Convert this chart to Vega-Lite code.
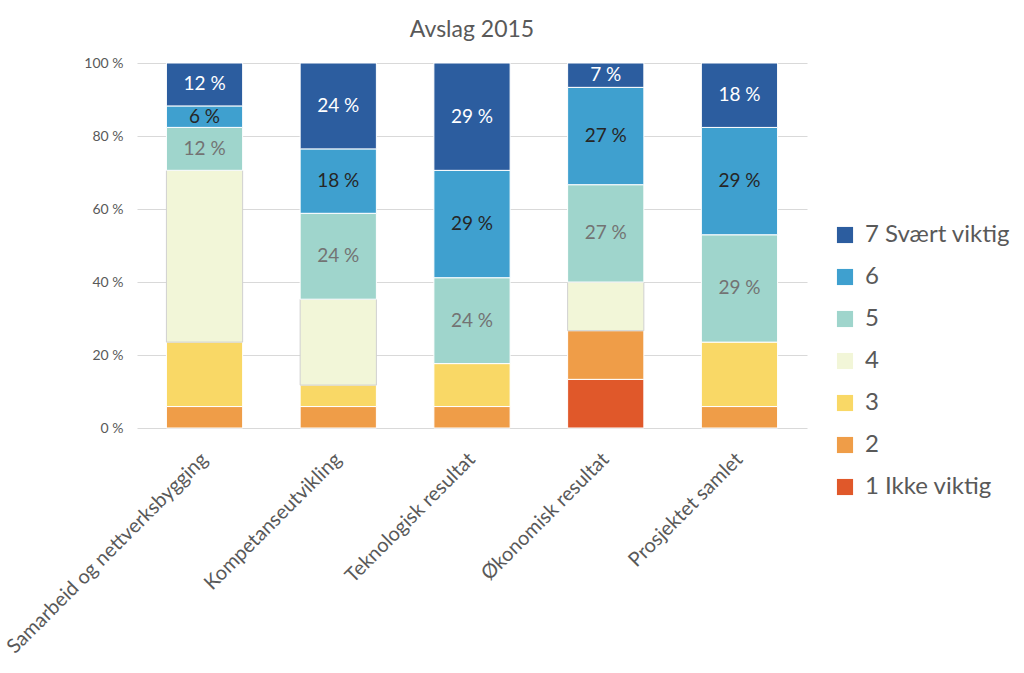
{
  "$schema": "https://vega.github.io/schema/vega-lite/v6.json",
  "width": 670,
  "height": 365,
  "padding": {"left": 3, "top": 19, "right": 10, "bottom": 5},
  "title": {"text": "Avslag 2015", "fontSize": 23, "font": "Lato", "fontWeight": "normal", "color": "#595959", "offset": 14},
  "config": {
    "locale": {"number": {"decimal": ",", "thousands": " ", "grouping": [3], "currency": ["", " kr"], "percent": " %"}},
    "view": {"stroke": null},
    "font": "Lato"
  },
  "data": {"values": [
    {"tema": "Samarbeid og nettverksbygging", "level": 2, "kategori": "2", "share": 0.0588},
    {"tema": "Samarbeid og nettverksbygging", "level": 3, "kategori": "3", "share": 0.1765},
    {"tema": "Samarbeid og nettverksbygging", "level": 4, "kategori": "4", "share": 0.4706},
    {"tema": "Samarbeid og nettverksbygging", "level": 5, "kategori": "5", "share": 0.1176},
    {"tema": "Samarbeid og nettverksbygging", "level": 6, "kategori": "6", "share": 0.0588},
    {"tema": "Samarbeid og nettverksbygging", "level": 7, "kategori": "7 Svært viktig", "share": 0.1176},
    {"tema": "Kompetanseutvikling", "level": 2, "kategori": "2", "share": 0.0588},
    {"tema": "Kompetanseutvikling", "level": 3, "kategori": "3", "share": 0.0588},
    {"tema": "Kompetanseutvikling", "level": 4, "kategori": "4", "share": 0.2353},
    {"tema": "Kompetanseutvikling", "level": 5, "kategori": "5", "share": 0.2353},
    {"tema": "Kompetanseutvikling", "level": 6, "kategori": "6", "share": 0.1765},
    {"tema": "Kompetanseutvikling", "level": 7, "kategori": "7 Svært viktig", "share": 0.2353},
    {"tema": "Teknologisk resultat", "level": 2, "kategori": "2", "share": 0.0588},
    {"tema": "Teknologisk resultat", "level": 3, "kategori": "3", "share": 0.1176},
    {"tema": "Teknologisk resultat", "level": 5, "kategori": "5", "share": 0.2353},
    {"tema": "Teknologisk resultat", "level": 6, "kategori": "6", "share": 0.2941},
    {"tema": "Teknologisk resultat", "level": 7, "kategori": "7 Svært viktig", "share": 0.2941},
    {"tema": "Økonomisk resultat", "level": 1, "kategori": "1 Ikke viktig", "share": 0.1333},
    {"tema": "Økonomisk resultat", "level": 2, "kategori": "2", "share": 0.1333},
    {"tema": "Økonomisk resultat", "level": 4, "kategori": "4", "share": 0.1333},
    {"tema": "Økonomisk resultat", "level": 5, "kategori": "5", "share": 0.2667},
    {"tema": "Økonomisk resultat", "level": 6, "kategori": "6", "share": 0.2667},
    {"tema": "Økonomisk resultat", "level": 7, "kategori": "7 Svært viktig", "share": 0.0667},
    {"tema": "Prosjektet samlet", "level": 2, "kategori": "2", "share": 0.0588},
    {"tema": "Prosjektet samlet", "level": 3, "kategori": "3", "share": 0.1765},
    {"tema": "Prosjektet samlet", "level": 5, "kategori": "5", "share": 0.2941},
    {"tema": "Prosjektet samlet", "level": 6, "kategori": "6", "share": 0.2941},
    {"tema": "Prosjektet samlet", "level": 7, "kategori": "7 Svært viktig", "share": 0.1765}
  ]},
  "encoding": {
    "x": {
      "field": "tema", "type": "nominal", "sort": null, "title": null,
      "scale": {"paddingInner": 0.43, "paddingOuter": 0.22},
      "axis": {"labelAngle": -45, "labelAlign": "right", "labelBaseline": "middle", "labelFontSize": 20, "labelColor": "#595959", "labelPadding": 28, "ticks": false, "domain": false, "labelLimit": 400}
    }
  },
  "layer": [
    {
      "mark": {"type": "bar", "strokeWidth": 1},
      "encoding": {
        "y": {
          "field": "share", "type": "quantitative", "stack": "normalize", "title": null,
          "scale": {"domain": [0, 1]},
          "axis": {"format": ".0%", "values": [0, 0.2, 0.4, 0.6, 0.8, 1], "labelFontSize": 14, "labelColor": "#595959", "gridColor": "#d9d9d9", "domain": false, "ticks": false, "labelPadding": 14}
        },
        "order": {"field": "level", "type": "quantitative", "sort": "ascending"},
        "color": {
          "field": "kategori", "type": "nominal",
          "scale": {
            "domain": ["7 Svært viktig", "6", "5", "4", "3", "2", "1 Ikke viktig"],
            "range": ["#2c5d9f", "#3fa0cf", "#9fd5cc", "#f2f6d8", "#f9d866", "#ef9d48", "#e0582a"]
          },
          "legend": {"title": null, "orient": "none", "legendX": 696, "legendY": 160, "labelFontSize": 24, "labelColor": "#595959", "symbolType": "square", "symbolSize": 260, "symbolStrokeWidth": 0, "rowPadding": 18, "labelOffset": 8}
        },
        "stroke": {"condition": {"test": "datum.level == 4", "value": "#d0d0d0"}, "value": "#ffffff"}
      }
    },
    {
      "transform": [
        {"stack": "share", "groupby": ["tema"], "sort": [{"field": "level", "order": "ascending"}], "offset": "normalize", "as": ["y0", "y1"]},
        {"filter": "datum.level >= 5"},
        {"fold": ["y0", "y1"], "as": ["ende", "pos"]}
      ],
      "mark": {"type": "text", "fontSize": 19, "baseline": "middle"},
      "encoding": {
        "y": {"aggregate": "mean", "field": "pos", "type": "quantitative", "stack": null},
        "detail": {"field": "level", "type": "quantitative"},
        "text": {"field": "share", "type": "quantitative", "format": ".0%"},
        "color": {"condition": [{"test": "datum.level == 7", "value": "#ffffff"}, {"test": "datum.level == 6", "value": "#262626"}], "value": "#737373"}
      }
    }
  ]
}
